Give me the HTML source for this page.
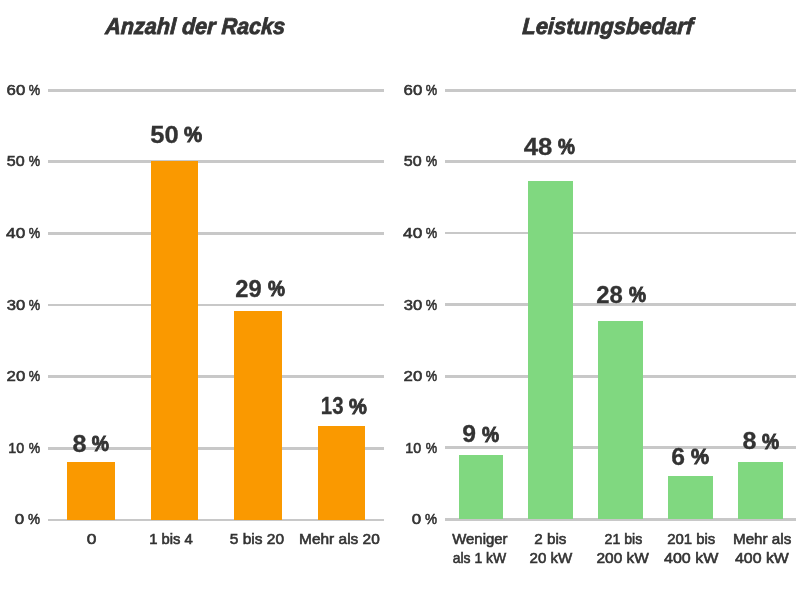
<!DOCTYPE html>
<html><head><meta charset="utf-8">
<style>
html,body{margin:0;padding:0;background:#fff;width:800px;height:600px;overflow:hidden}
svg{display:block;will-change:transform}
text{font-family:"Liberation Sans",sans-serif;fill:#333}
</style></head><body>
<svg width="800" height="600" viewBox="0 0 800 600">
<g fill="#c8c8c8">
<rect x="48" y="89" width="336" height="3"/>
<rect x="48" y="160" width="336" height="3"/>
<rect x="48" y="232" width="336" height="3"/>
<rect x="48" y="304" width="336" height="2"/>
<rect x="48" y="375" width="336" height="3"/>
<rect x="48" y="447" width="336" height="3"/>
<rect x="48" y="519" width="336" height="2"/>
<rect x="445" y="89" width="351" height="3"/>
<rect x="445" y="160" width="351" height="3"/>
<rect x="445" y="232" width="351" height="2"/>
<rect x="445" y="303" width="351" height="3"/>
<rect x="445" y="375" width="351" height="3"/>
<rect x="445" y="446" width="351" height="3"/>
<rect x="445" y="518" width="351" height="3"/>
</g>
<g fill="#fa9900">
<rect x="67" y="462" width="48" height="58"/>
<rect x="151" y="161" width="47" height="359"/>
<rect x="234" y="311" width="48" height="209"/>
<rect x="318" y="426" width="47" height="94"/>
</g>
<g fill="#80d880">
<rect x="459" y="455" width="44" height="64"/>
<rect x="528" y="181" width="45" height="338"/>
<rect x="598" y="321" width="45" height="198"/>
<rect x="668" y="476" width="45" height="43"/>
<rect x="738" y="462" width="45" height="57"/>
</g>
<text transform="matrix(0.9390 0 -0.0574 1.0000 104.94 34.00)" font-size="23" font-weight="bold" font-style="italic" stroke="#333333" stroke-width="0.8">Anzahl der Racks</text>
<text transform="matrix(0.9547 0 -0.0584 1.0000 522.00 34.00)" font-size="23" font-weight="bold" font-style="italic" stroke="#333333" stroke-width="0.8">Leistungsbedarf</text>
<text transform="matrix(1.1206 0 0.0000 0.9511 6.54 95.32)" font-size="15" font-weight="normal" stroke="#333333" stroke-width="0.6">60</text>
<text transform="matrix(0.8549 0 0.0000 0.9511 28.79 95.32)" font-size="15" font-weight="normal" stroke="#333333" stroke-width="0.6">%</text>
<text transform="matrix(1.1206 0 0.0000 0.9511 403.54 95.32)" font-size="15" font-weight="normal" stroke="#333333" stroke-width="0.6">60</text>
<text transform="matrix(0.8549 0 0.0000 0.9511 425.79 95.32)" font-size="15" font-weight="normal" stroke="#333333" stroke-width="0.6">%</text>
<text transform="matrix(1.0719 0 0.0000 0.9511 6.83 166.32)" font-size="15" font-weight="normal" stroke="#333333" stroke-width="0.6">50</text>
<text transform="matrix(0.8549 0 0.0000 0.9511 28.79 166.32)" font-size="15" font-weight="normal" stroke="#333333" stroke-width="0.6">%</text>
<text transform="matrix(1.0719 0 0.0000 0.9511 403.83 166.32)" font-size="15" font-weight="normal" stroke="#333333" stroke-width="0.6">50</text>
<text transform="matrix(0.8549 0 0.0000 0.9511 425.79 166.32)" font-size="15" font-weight="normal" stroke="#333333" stroke-width="0.6">%</text>
<text transform="matrix(1.1477 0 0.0000 0.9511 6.10 238.32)" font-size="15" font-weight="normal" stroke="#333333" stroke-width="0.6">40</text>
<text transform="matrix(0.8549 0 0.0000 0.9511 28.79 238.32)" font-size="15" font-weight="normal" stroke="#333333" stroke-width="0.6">%</text>
<text transform="matrix(1.1477 0 0.0000 0.9511 403.10 238.32)" font-size="15" font-weight="normal" stroke="#333333" stroke-width="0.6">40</text>
<text transform="matrix(0.8549 0 0.0000 0.9511 425.79 238.32)" font-size="15" font-weight="normal" stroke="#333333" stroke-width="0.6">%</text>
<text transform="matrix(1.1094 0 0.0000 0.9511 6.72 310.22)" font-size="15" font-weight="normal" stroke="#333333" stroke-width="0.6">30</text>
<text transform="matrix(0.8549 0 0.0000 0.9511 28.79 310.22)" font-size="15" font-weight="normal" stroke="#333333" stroke-width="0.6">%</text>
<text transform="matrix(1.1094 0 0.0000 0.9511 403.72 310.22)" font-size="15" font-weight="normal" stroke="#333333" stroke-width="0.6">30</text>
<text transform="matrix(0.8549 0 0.0000 0.9511 425.79 310.22)" font-size="15" font-weight="normal" stroke="#333333" stroke-width="0.6">%</text>
<text transform="matrix(1.1206 0 0.0000 0.9511 6.54 381.32)" font-size="15" font-weight="normal" stroke="#333333" stroke-width="0.6">20</text>
<text transform="matrix(0.8549 0 0.0000 0.9511 28.79 381.32)" font-size="15" font-weight="normal" stroke="#333333" stroke-width="0.6">%</text>
<text transform="matrix(1.1206 0 0.0000 0.9511 403.54 381.32)" font-size="15" font-weight="normal" stroke="#333333" stroke-width="0.6">20</text>
<text transform="matrix(0.8549 0 0.0000 0.9511 425.79 381.32)" font-size="15" font-weight="normal" stroke="#333333" stroke-width="0.6">%</text>
<text transform="matrix(0.9516 0 0.0000 0.9511 8.29 453.22)" font-size="15" font-weight="normal" stroke="#333333" stroke-width="0.6">10</text>
<text transform="matrix(0.8549 0 0.0000 0.9511 28.79 453.22)" font-size="15" font-weight="normal" stroke="#333333" stroke-width="0.6">%</text>
<text transform="matrix(0.9516 0 0.0000 0.9511 405.29 453.22)" font-size="15" font-weight="normal" stroke="#333333" stroke-width="0.6">10</text>
<text transform="matrix(0.8549 0 0.0000 0.9511 425.79 453.22)" font-size="15" font-weight="normal" stroke="#333333" stroke-width="0.6">%</text>
<text transform="matrix(1.1290 0 0.0000 0.9511 14.72 524.22)" font-size="15" font-weight="normal" stroke="#333333" stroke-width="0.6">0</text>
<text transform="matrix(0.9020 0 0.0000 0.9511 28.02 524.22)" font-size="15" font-weight="normal" stroke="#333333" stroke-width="0.6">%</text>
<text transform="matrix(1.1290 0 0.0000 0.9511 411.72 524.22)" font-size="15" font-weight="normal" stroke="#333333" stroke-width="0.6">0</text>
<text transform="matrix(0.9020 0 0.0000 0.9511 425.02 524.22)" font-size="15" font-weight="normal" stroke="#333333" stroke-width="0.6">%</text>
<text transform="matrix(1.0490 0 0.0000 0.9884 72.38 451.70)" font-size="24" font-weight="bold" stroke="#333333" stroke-width="0.3">8</text>
<text transform="matrix(0.8071 0 0.0000 0.9472 91.80 451.24)" font-size="24" font-weight="bold" stroke="#333333" stroke-width="1.0">%</text>
<text transform="matrix(1.0667 0 0.0000 0.9971 150.37 142.75)" font-size="24" font-weight="bold" stroke="#333333" stroke-width="0.3">50</text>
<text transform="matrix(0.8518 0 0.0000 0.9556 183.90 142.28)" font-size="24" font-weight="bold" stroke="#333333" stroke-width="1.0">%</text>
<text transform="matrix(0.9901 0 0.0000 0.9971 235.26 296.75)" font-size="24" font-weight="bold" stroke="#333333" stroke-width="0.3">29</text>
<text transform="matrix(0.7953 0 0.0000 0.9556 267.90 296.28)" font-size="24" font-weight="bold" stroke="#333333" stroke-width="1.0">%</text>
<text transform="matrix(0.8525 0 0.0000 0.9657 320.83 414.42)" font-size="24" font-weight="bold" stroke="#333333" stroke-width="0.3">13</text>
<text transform="matrix(0.8376 0 0.0000 0.9389 349.10 414.20)" font-size="24" font-weight="bold" stroke="#333333" stroke-width="1.0">%</text>
<text transform="matrix(1.0298 0 0.0000 0.9739 462.13 442.46)" font-size="24" font-weight="bold" stroke="#333333" stroke-width="0.3">9</text>
<text transform="matrix(0.8024 0 0.0000 0.9333 481.90 442.00)" font-size="24" font-weight="bold" stroke="#333333" stroke-width="1.0">%</text>
<text transform="matrix(1.0731 0 0.0000 0.9855 523.73 154.75)" font-size="24" font-weight="bold" stroke="#333333" stroke-width="0.3">48</text>
<text transform="matrix(0.7929 0 0.0000 0.9444 557.90 154.29)" font-size="24" font-weight="bold" stroke="#333333" stroke-width="1.0">%</text>
<text transform="matrix(0.9961 0 0.0000 0.9797 596.15 302.66)" font-size="24" font-weight="bold" stroke="#333333" stroke-width="0.3">28</text>
<text transform="matrix(0.8000 0 0.0000 0.9389 629.00 302.20)" font-size="24" font-weight="bold" stroke="#333333" stroke-width="1.0">%</text>
<text transform="matrix(1.0298 0 0.0000 0.9739 671.23 464.66)" font-size="24" font-weight="bold" stroke="#333333" stroke-width="0.3">6</text>
<text transform="matrix(0.8471 0 0.0000 0.9333 691.00 464.20)" font-size="24" font-weight="bold" stroke="#333333" stroke-width="1.0">%</text>
<text transform="matrix(1.0490 0 0.0000 0.9739 742.38 449.46)" font-size="24" font-weight="bold" stroke="#333333" stroke-width="0.3">8</text>
<text transform="matrix(0.8024 0 0.0000 0.9333 761.90 449.00)" font-size="24" font-weight="bold" stroke="#333333" stroke-width="1.0">%</text>
<text transform="matrix(1.1613 0 0.0000 1.0000 86.71 544.00)" font-size="15" font-weight="normal" stroke="#333333" stroke-width="0.6">0</text>
<text transform="matrix(0.9873 0 0.0000 1.0000 149.16 544.00)" font-size="15" font-weight="normal" stroke="#333333" stroke-width="0.6">1 bis 4</text>
<text transform="matrix(1.0327 0 0.0000 1.0000 229.84 544.00)" font-size="15" font-weight="normal" stroke="#333333" stroke-width="0.6">5 bis 20</text>
<text transform="matrix(1.0299 0 0.0000 1.0000 299.07 544.00)" font-size="15" font-weight="normal" stroke="#333333" stroke-width="0.6">Mehr als 20</text>
<text transform="matrix(0.9955 0 0.0000 1.0000 452.25 544.00)" font-size="15" font-weight="normal" stroke="#333333" stroke-width="0.6">Weniger</text>
<text transform="matrix(0.9304 0 0.0000 1.0000 452.77 563.10)" font-size="15" font-weight="normal" stroke="#333333" stroke-width="0.6">als 1 kW</text>
<text transform="matrix(1.0129 0 0.0000 1.0000 534.29 544.00)" font-size="15" font-weight="normal" stroke="#333333" stroke-width="0.6">2 bis</text>
<text transform="matrix(1.0059 0 0.0000 1.0000 529.50 563.10)" font-size="15" font-weight="normal" stroke="#333333" stroke-width="0.6">20 kW</text>
<text transform="matrix(0.9427 0 0.0000 1.0000 604.53 544.00)" font-size="15" font-weight="normal" stroke="#333333" stroke-width="0.6">21 bis</text>
<text transform="matrix(1.0297 0 0.0000 1.0000 596.49 563.10)" font-size="15" font-weight="normal" stroke="#333333" stroke-width="0.6">200 kW</text>
<text transform="matrix(0.9937 0 0.0000 1.0000 667.30 544.00)" font-size="15" font-weight="normal" stroke="#333333" stroke-width="0.6">201 bis</text>
<text transform="matrix(1.0686 0 0.0000 1.0000 664.00 563.10)" font-size="15" font-weight="normal" stroke="#333333" stroke-width="0.6">400 kW</text>
<text transform="matrix(1.0133 0 0.0000 1.0000 732.99 544.00)" font-size="15" font-weight="normal" stroke="#333333" stroke-width="0.6">Mehr als</text>
<text transform="matrix(1.0588 0 0.0000 1.0000 735.00 563.10)" font-size="15" font-weight="normal" stroke="#333333" stroke-width="0.6">400 kW</text>
</svg>
</body></html>
